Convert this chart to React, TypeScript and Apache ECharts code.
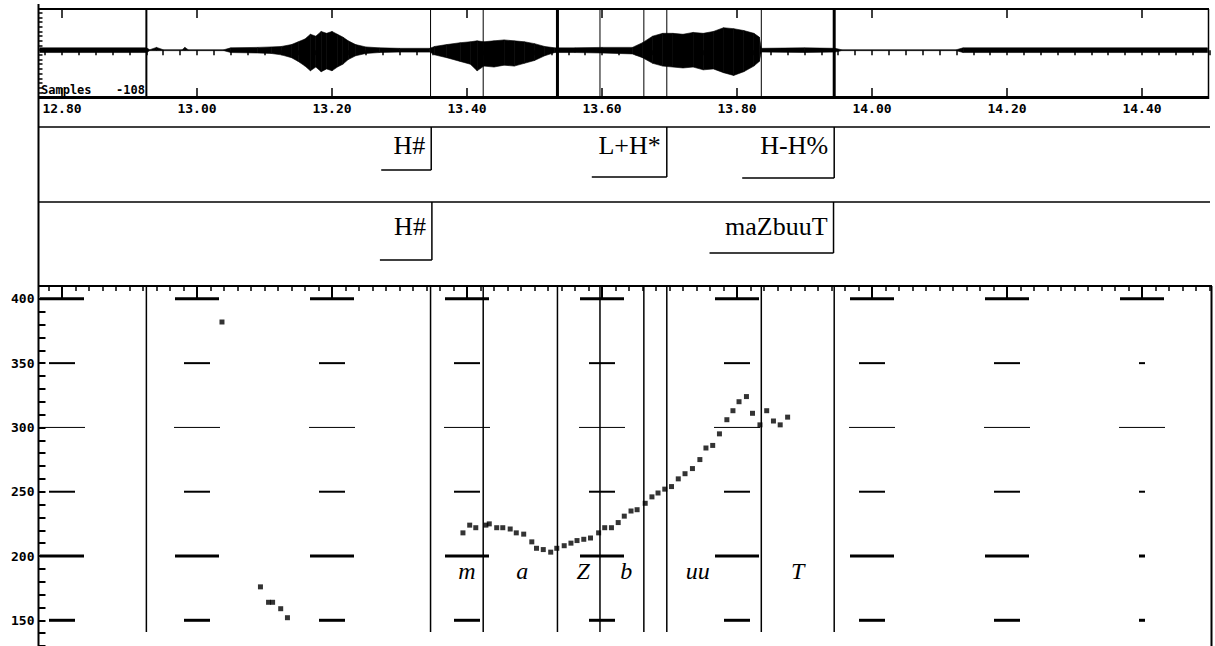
import React, { useEffect, useRef } from 'react';
import * as echarts from 'echarts';

// ---------- data ----------
const timeLabels = [12.8, 13.0, 13.2, 13.4, 13.6, 13.8, 14.0, 14.2, 14.4];
const pitchLevels = [150, 200, 250, 300, 350, 400];
const boundaryTimes = [12.925, 13.346, 13.424, 13.534, 13.597, 13.662, 13.696, 13.836, 13.944];

const toneLabels = ['H#', 'L+H*', 'H-H%'];
const toneTimes = [13.347, 13.696, 13.944];
const wordLabels = ['H#', 'maZbuuT'];
const wordTimes = [13.348, 13.943];

const phoneLabels = ['m', 'a', 'Z', 'b', 'uu', 'T'];
const phoneTimes = [13.4, 13.482, 13.572, 13.636, 13.742, 13.89];

const pitchTimes = [
  13.037, 13.094, 13.106, 13.112, 13.124, 13.134,
  13.394, 13.404, 13.413, 13.428, 13.433, 13.444, 13.453, 13.464, 13.473, 13.484,
  13.496, 13.503, 13.513, 13.524, 13.533, 13.544, 13.554, 13.563, 13.573, 13.583,
  13.595, 13.604, 13.614, 13.624, 13.633, 13.643, 13.652, 13.664, 13.674, 13.683,
  13.693, 13.703, 13.713, 13.723, 13.734, 13.745, 13.754, 13.764, 13.774, 13.785,
  13.794, 13.803, 13.814, 13.823, 13.834, 13.844, 13.854, 13.864, 13.875,
];
const pitchHz = [
  382, 176, 164, 164, 159, 152,
  218, 224, 222, 224, 225, 222, 222, 221, 218, 217,
  211, 206, 205, 203, 206, 208, 210, 212, 213, 214,
  218, 222, 222, 226, 231, 235, 236, 241, 246, 249,
  252, 254, 260, 264, 268, 275, 284, 286, 295, 306,
  313, 320, 324, 311, 302, 313, 305, 302, 308,
];

const waveTimes = [
  12.767, 12.925, 12.93, 12.94, 12.95, 12.978, 12.982, 12.987, 13.04, 13.05,
  13.09, 13.11, 13.125, 13.14, 13.15, 13.16, 13.168, 13.176, 13.184, 13.192,
  13.2, 13.208, 13.216, 13.224, 13.235, 13.25, 13.27, 13.3, 13.345, 13.352,
  13.37, 13.39, 13.405, 13.415, 13.425, 13.44, 13.455, 13.47, 13.485, 13.5,
  13.515, 13.53, 13.56, 13.6, 13.645, 13.66, 13.675, 13.69, 13.705, 13.72,
  13.735, 13.75, 13.765, 13.78, 13.795, 13.81, 13.825, 13.833, 13.836, 13.9,
  13.945, 13.955, 14.125, 14.135, 14.497,
];
const waveMax = [
  5, 5, 1, 6, 1, 1, 6, 1, 1, 5,
  6, 7, 8, 12, 18, 24, 34, 30, 40, 36,
  40, 34, 28, 20, 12, 7, 5, 4, 4, 8,
  12, 16, 18, 20, 18, 20, 22, 20, 18, 14,
  8, 5, 5, 6, 6, 16, 30, 36, 36, 34,
  38, 36, 40, 48, 46, 42, 36, 28, 4, 5,
  4, 1, 1, 5, 5,
];
const waveMin = [
  -5, -5, -1, -1, -1, -1, -1, -1, -1, -5,
  -6, -7, -10, -16, -24, -34, -44, -36, -46, -40,
  -44, -36, -30, -20, -12, -7, -5, -4, -4, -10,
  -16, -24, -30, -44, -34, -36, -32, -34, -28, -22,
  -12, -5, -5, -6, -8, -16, -28, -34, -36, -38,
  -36, -42, -40, -48, -54, -46, -34, -24, -4, -5,
  -4, -1, -1, -5, -5,
];

// ---------- styles / layout ----------
const INK = '#000';
const monoFont = '"DejaVu Sans Mono", monospace';
const serifFont = '"Liberation Serif", "Times New Roman", serif';
const waveBoundaryWidths = [2, 1, 1, 3, 1, 1, 1, 1, 3];
const toneDrops = [43, 50, 51];
const toneBoxes = [50, 75, 92];
const wordDrops = [58, 51];
const wordBoxes = [52, 124];

function tierRender(labels: string[], drops: number[], boxes: number[], offsetY: number, textY: number) {
  return (params: any, api: any) => {
    const i = params.dataIndex;
    const x = api.coord([api.value(0), 0])[0];
    const top = params.coordSys.y + offsetY;
    const yb = top + drops[i];
    return {
      type: 'group',
      children: [
        { type: 'line', shape: { x1: x, y1: top, x2: x, y2: yb }, style: { stroke: INK, lineWidth: 1.5 } },
        { type: 'line', shape: { x1: x - boxes[i], y1: yb, x2: x, y2: yb }, style: { stroke: INK, lineWidth: 1.5 } },
        {
          type: 'text',
          style: {
            text: labels[i], x: x - 6, y: top + textY, align: 'right', verticalAlign: 'middle',
            fontFamily: serifFont, fontSize: 26, fill: INK,
          },
        },
      ],
    };
  };
}

export default function App() {
  const ref = useRef<HTMLDivElement>(null);
  useEffect(() => {
    document.body.style.margin = '0';
    const chart = echarts.init(ref.current!, undefined, { renderer: 'svg' });

    const tMin = 12.75;
    const tMax = 14.5;

    const option: any = {
      animation: false,
      backgroundColor: '#fff',
      grid: [
        { left: 28.25, width: 1181.25, top: 9, height: 88 },
        { left: 28.25, width: 1181.25, top: 127, height: 160 },
        { left: 35, width: 1174.5, top: 286, height: 366.8 },
      ],
      xAxis: [
        {
          gridIndex: 0, type: 'value', position: 'top', min: tMin, max: tMax, interval: 0.025,
          axisLine: { show: false }, splitLine: { show: false }, axisLabel: { show: false },
          axisTick: { show: true, inside: true, length: 5, lineStyle: { color: INK, width: 1.5 } },
        },
        {
          gridIndex: 0, type: 'value', position: 'bottom', min: tMin, max: tMax, interval: 0.05,
          axisLine: { show: false }, splitLine: { show: false }, axisTick: { show: false },
          axisLabel: {
            show: true, margin: 5, color: INK, fontFamily: monoFont, fontWeight: 'bold', fontSize: 13,
            formatter: (v: number) => {
              const k = v / 0.2;
              return Math.abs(k - Math.round(k)) < 1e-6 ? v.toFixed(2) : '';
            },
          },
        },
        {
          gridIndex: 1, type: 'value', min: tMin, max: tMax, show: false,
        },
        {
          gridIndex: 2, type: 'value', position: 'top', min: 12.76, max: tMax, interval: 0.02,
          axisLine: { show: false }, splitLine: { show: false }, axisLabel: { show: false },
          axisTick: { show: true, inside: true, length: 5, lineStyle: { color: INK, width: 1.5 } },
        },
      ],
      yAxis: [
        {
          gridIndex: 0, type: 'value', min: -100, max: 88, interval: 10, offset: -10.25,
          axisLine: { show: false }, splitLine: { show: false }, axisLabel: { show: false },
          axisTick: { show: true, inside: true, length: 4, lineStyle: { color: INK, width: 1.5 } },
        },
        { gridIndex: 1, type: 'value', min: 0, max: 1, show: false },
        {
          gridIndex: 2, type: 'value', min: 130, max: 410, interval: 10, offset: -3.5,
          axisLine: { show: false }, splitLine: { show: false },
          axisTick: { show: true, inside: true, length: 7, lineStyle: { color: INK, width: 2 } },
          axisLabel: {
            show: true, margin: 4, color: INK, fontFamily: monoFont, fontWeight: 'bold', fontSize: 13,
            formatter: (v: number) => (v % 50 === 0 && v >= 150 && v <= 400 ? String(v) : ''),
          },
        },
      ],
      series: [
        // waveform envelope
        {
          type: 'custom', xAxisIndex: 0, yAxisIndex: 0, silent: true,
          data: waveTimes.map((t, i) => [t, waveMax[i], waveMin[i]]),
          encode: { x: 0, y: [1, 2] },
          renderItem: (params: any, api: any) => {
            const i = params.dataIndex;
            if (i >= waveTimes.length - 1) return null;
            const a1 = api.coord([waveTimes[i], waveMax[i]]);
            const a2 = api.coord([waveTimes[i + 1], waveMax[i + 1]]);
            const b2 = api.coord([waveTimes[i + 1], waveMin[i + 1]]);
            const b1 = api.coord([waveTimes[i], waveMin[i]]);
            return {
              type: 'polygon',
              shape: { points: [a1, a2, b2, b1] },
              style: { fill: INK, stroke: INK, lineWidth: 0.6 },
            };
          },
        },
        // waveform boundaries
        {
          type: 'custom', xAxisIndex: 0, yAxisIndex: 0, silent: true,
          data: boundaryTimes.map((t) => [t, 0]),
          renderItem: (params: any, api: any) => {
            const x = api.coord([api.value(0), 0])[0];
            const cs = params.coordSys;
            return {
              type: 'line',
              shape: { x1: x, y1: cs.y, x2: x, y2: cs.y + cs.height },
              style: { stroke: INK, lineWidth: waveBoundaryWidths[params.dataIndex] },
            };
          },
        },
        // waveform major time ticks
        {
          type: 'custom', xAxisIndex: 0, yAxisIndex: 0, silent: true,
          data: timeLabels.map((t) => [t, 0]),
          renderItem: (params: any, api: any) => {
            const x = api.coord([api.value(0), 0])[0];
            const cs = params.coordSys;
            return {
              type: 'group',
              children: [
                { type: 'line', shape: { x1: x, y1: cs.y, x2: x, y2: cs.y + 9 }, style: { stroke: INK, lineWidth: 1.5 } },
                { type: 'line', shape: { x1: x, y1: cs.y + cs.height, x2: x, y2: cs.y + cs.height - 9 }, style: { stroke: INK, lineWidth: 1.5 } },
              ],
            };
          },
        },
        // tone tier
        {
          type: 'custom', xAxisIndex: 2, yAxisIndex: 1, silent: true,
          data: toneTimes.map((t) => [t, 0]),
          renderItem: tierRender(toneLabels, toneDrops, toneBoxes, 0, 18),
        },
        // word tier
        {
          type: 'custom', xAxisIndex: 2, yAxisIndex: 1, silent: true,
          data: wordTimes.map((t) => [t, 0]),
          renderItem: tierRender(wordLabels, wordDrops, wordBoxes, 75, 24),
        },
        // pitch reference dashes
        {
          type: 'custom', xAxisIndex: 3, yAxisIndex: 2, silent: true,
          data: timeLabels.flatMap((t, c) => pitchLevels.map((h) => [t, h, c])),
          renderItem: (params: any, api: any) => {
            const t = api.value(0);
            const h = api.value(1);
            const c = api.value(2);
            const [cx, cy] = api.coord([t, h]);
            const last = c === timeLabels.length - 1;
            let hw = 13;
            let lw = 2;
            if (h === 400 || h === 200) { hw = 22; lw = 3; }
            else if (h === 300) { hw = 23; lw = 1; }
            else if (h === 150) { hw = 13; lw = 3; }
            if (last && h !== 400 && h !== 300) hw = 3;
            const children: any[] = [
              { type: 'line', shape: { x1: Math.max(cx - hw, 40), y1: cy, x2: cx + hw, y2: cy }, style: { stroke: INK, lineWidth: lw } },
            ];
            if (h === 400) {
              children.push({ type: 'line', shape: { x1: cx, y1: params.coordSys.y, x2: cx, y2: cy }, style: { stroke: INK, lineWidth: 2 } });
            }
            return { type: 'group', children };
          },
        },
        // pitch boundaries
        {
          type: 'custom', xAxisIndex: 3, yAxisIndex: 2, silent: true,
          data: boundaryTimes.map((t) => [t, 200]),
          renderItem: (params: any, api: any) => {
            const x = api.coord([api.value(0), 200])[0];
            const cs = params.coordSys;
            return {
              type: 'line',
              shape: { x1: x, y1: cs.y, x2: x, y2: cs.y + 346 },
              style: { stroke: INK, lineWidth: 1.5 },
            };
          },
        },
        // phone labels
        {
          type: 'custom', xAxisIndex: 3, yAxisIndex: 2, silent: true,
          data: phoneTimes.map((t) => [t, 200]),
          renderItem: (params: any, api: any) => {
            const x = api.coord([api.value(0), 200])[0];
            return {
              type: 'text',
              style: {
                text: phoneLabels[params.dataIndex], x, y: params.coordSys.y + 285,
                align: 'center', verticalAlign: 'middle',
                fontFamily: serifFont, fontStyle: 'italic', fontSize: 24, fill: INK,
              },
            };
          },
        },
        // pitch track
        {
          type: 'scatter', xAxisIndex: 3, yAxisIndex: 2, silent: true,
          symbol: 'rect', symbolSize: 5,
          itemStyle: { color: INK },
          data: pitchTimes.map((t, i) => [t, pitchHz[i]]),
        },
      ],
      graphic: [
        { type: 'rect', z: 100, shape: { x: 0, y: 0, width: 37, height: 104 }, style: { fill: '#fff' } },
        { type: 'rect', z: 100, shape: { x: 0, y: 280, width: 37, height: 11 }, style: { fill: '#fff' } },
        // frame lines
        { type: 'line', z: 110, shape: { x1: 38.5, y1: 4, x2: 38.5, y2: 646 }, style: { stroke: INK, lineWidth: 2 } },
        { type: 'line', z: 110, shape: { x1: 38, y1: 9, x2: 1209, y2: 9 }, style: { stroke: INK, lineWidth: 2 } },
        { type: 'line', z: 110, shape: { x1: 38, y1: 97.5, x2: 1209, y2: 97.5 }, style: { stroke: INK, lineWidth: 3 } },
        { type: 'line', z: 110, shape: { x1: 1208.5, y1: 9, x2: 1208.5, y2: 99 }, style: { stroke: INK, lineWidth: 1.5 } },
        { type: 'line', z: 110, shape: { x1: 39, y1: 127, x2: 1210, y2: 127 }, style: { stroke: INK, lineWidth: 1.5 } },
        { type: 'line', z: 110, shape: { x1: 39, y1: 202, x2: 1210, y2: 202 }, style: { stroke: INK, lineWidth: 1.5 } },
        { type: 'line', z: 110, shape: { x1: 38, y1: 286, x2: 1212, y2: 286 }, style: { stroke: INK, lineWidth: 2 } },
        { type: 'line', z: 110, shape: { x1: 1211.5, y1: 286, x2: 1211.5, y2: 646 }, style: { stroke: INK, lineWidth: 2 } },
        {
          type: 'text', z: 110, left: 41, top: 84,
          style: { text: 'Samples', fontFamily: monoFont, fontWeight: 'bold', fontSize: 12, fill: INK },
        },
        {
          type: 'text', z: 110, left: 116, top: 84,
          style: { text: '-108', fontFamily: monoFont, fontWeight: 'bold', fontSize: 12, fill: INK },
        },
      ],
    };

    chart.setOption(option);
    return () => chart.dispose();
  }, []);

  return <div ref={ref} style={{ width: 1215, height: 646 }} />;
}
